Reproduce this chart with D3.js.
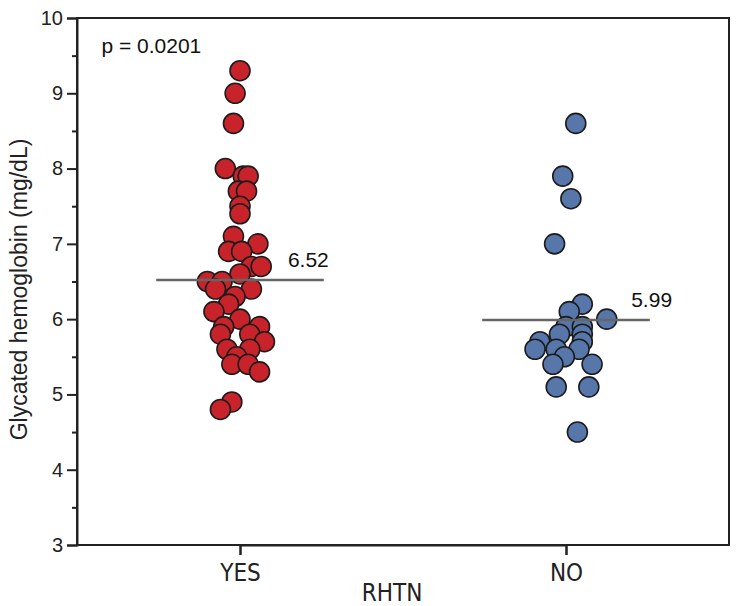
<!DOCTYPE html>
<html>
<head>
<meta charset="utf-8">
<script src="https://cdn.jsdelivr.net/npm/d3@7"></script>
<style>
  html, body { margin: 0; padding: 0; background: #fff; }
  svg { display: block; }
</style>
</head>
<body>
<svg id="chart" width="739" height="606"></svg>
<script>
// ---- data ----
const categories = ["YES", "NO"];
const axisTitleX = "RHTN";
const axisTitleY = "Glycated hemoglobin (mg/dL)";
const pLabel = "p = 0.0201";
const yTicks = [3, 4, 5, 6, 7, 8, 9, 10];
const yMinorTicks = [3.5, 4.5, 5.5, 6.5, 7.5, 8.5, 9.5];

// RHTN = YES : values and horizontal jitter (in category units)
const yesValues = [9.3, 9.0, 8.6, 8.0, 7.9, 7.9, 7.7, 7.7, 7.5, 7.4,
  7.1, 7.0, 6.9, 6.9, 6.7, 6.7, 6.6, 6.5, 6.5, 6.4, 6.4, 6.3, 6.2, 6.1,
  6.0, 5.9, 5.9, 5.8, 5.8, 5.7, 5.6, 5.6, 5.5, 5.4, 5.4, 5.3, 4.9, 4.8];
const yesJitter = [0.00, -0.015, -0.02, -0.045, 0.01, 0.025, -0.005, 0.02, 0.00, 0.00,
  -0.02, 0.055, -0.035, 0.005, 0.035, 0.065, 0.00, -0.10, -0.055, -0.075, 0.035, -0.015, -0.035, -0.08,
  0.00, -0.05, 0.06, -0.06, 0.03, 0.075, 0.03, -0.04, -0.01, -0.025, 0.025, 0.06, -0.025, -0.06];

// RHTN = NO
const noValues = [8.6, 7.9, 7.6, 7.0, 6.2, 6.1, 6.0, 5.9, 5.9, 5.8, 5.8,
  5.7, 5.6, 5.7, 5.6, 5.6, 5.5, 5.4, 5.4, 5.1, 5.1, 4.5];
const noJitter = [0.03, -0.01, 0.015, -0.035, 0.05, 0.01, 0.125, 0.00, 0.05, -0.02, 0.05,
  -0.08, -0.095, 0.05, -0.03, 0.04, -0.005, -0.04, 0.08, -0.03, 0.07, 0.035];

const means = [6.52, 5.99];
const meanLabels = ["6.52", "5.99"];

// ---- layout ----
const margin = { left: 77, top: 18, right: 10, bottom: 61 };
const W = 739, H = 606;
const svg = d3.select("#chart");
const plotW = W - margin.left - margin.right;
const plotH = H - margin.top - margin.bottom;
const g = svg.append("g").attr("transform", `translate(${margin.left},${margin.top})`);

const x = d3.scaleLinear().domain([-0.5, 1.5]).range([0, plotW]);
const y = d3.scaleLinear().domain([3, 10]).range([plotH, 0]);
const xCat = d3.scalePoint().domain(categories).range([x(0), x(1)]);
const labelDx = [0.147, 0.2];

const sans = "'Liberation Sans', Arial, sans-serif";
const narrow = "'Liberation Sans Narrow', 'DejaVu Sans Condensed', sans-serif";

// frame
g.append("rect").attr("x", 0).attr("y", 0).attr("width", plotW).attr("height", plotH)
  .attr("fill", "none").attr("stroke", "#222").attr("stroke-width", 2);

// y axis
const yAxis = g.append("g").call(d3.axisLeft(y).tickValues(yTicks).tickSize(10).tickFormat(d3.format("d")));
yAxis.select(".domain").attr("stroke", "#222").attr("stroke-width", 2);
yAxis.selectAll(".tick line").attr("stroke", "#222").attr("stroke-width", 2);
yAxis.selectAll(".tick text").attr("font-family", sans).attr("font-size", 20).attr("fill", "#222").attr("dx", "-1");
const yMinor = g.append("g").call(d3.axisLeft(y).tickValues(yMinorTicks).tickSize(5).tickFormat(""));
yMinor.select(".domain").remove();
yMinor.selectAll(".tick line").attr("stroke", "#222").attr("stroke-width", 2);

// x axis
const xAxis = g.append("g").attr("transform", `translate(0,${plotH})`)
  .call(d3.axisBottom(xCat).tickSize(10).tickPadding(9));
xAxis.select(".domain").attr("stroke", "#222").attr("stroke-width", 2);
xAxis.selectAll(".tick line").attr("stroke", "#222").attr("stroke-width", 2);
xAxis.selectAll(".tick text").attr("font-family", narrow).attr("font-size", 24).attr("fill", "#222");

// axis titles
g.append("text").attr("x", (x(0) + x(1)) / 2 - 11).attr("y", plotH + 56)
  .attr("text-anchor", "middle").attr("font-family", narrow).attr("font-size", 24).attr("fill", "#222")
  .text(axisTitleX);
svg.append("text").attr("transform", `translate(27,${margin.top + plotH / 2 + 8}) rotate(-90)`)
  .attr("text-anchor", "middle").attr("font-family", sans).attr("font-size", 23).attr("fill", "#222")
  .text(axisTitleY);

// p value
g.append("text").attr("x", x(-0.425)).attr("y", y(9.53)).attr("font-family", sans)
  .attr("font-size", 21).attr("fill", "#111").text(pLabel);

// dots
const groups = [
  { cat: 0, values: yesValues, jitter: yesJitter, fill: "#c8232a" },
  { cat: 1, values: noValues, jitter: noJitter, fill: "#5777ab" }
];
groups.forEach(gr => {
  g.append("g").selectAll("circle").data(gr.values).join("circle")
    .attr("cx", (d, i) => x(gr.cat + gr.jitter[i]))
    .attr("cy", d => y(d))
    .attr("r", 10)
    .attr("fill", gr.fill)
    .attr("stroke", "#1c1c1c")
    .attr("stroke-width", 1.6);
});

// mean lines and labels
means.forEach((m, i) => {
  g.append("line")
    .attr("x1", x(i - 0.257)).attr("x2", x(i + 0.257))
    .attr("y1", y(m)).attr("y2", y(m))
    .attr("stroke", "#666").attr("stroke-width", 2.5);
  g.append("text")
    .attr("x", x(i + labelDx[i])).attr("y", y(m) - 13)
    .attr("font-family", sans).attr("font-size", 21).attr("fill", "#111")
    .text(meanLabels[i]);
});
</script>
</body>
</html>
